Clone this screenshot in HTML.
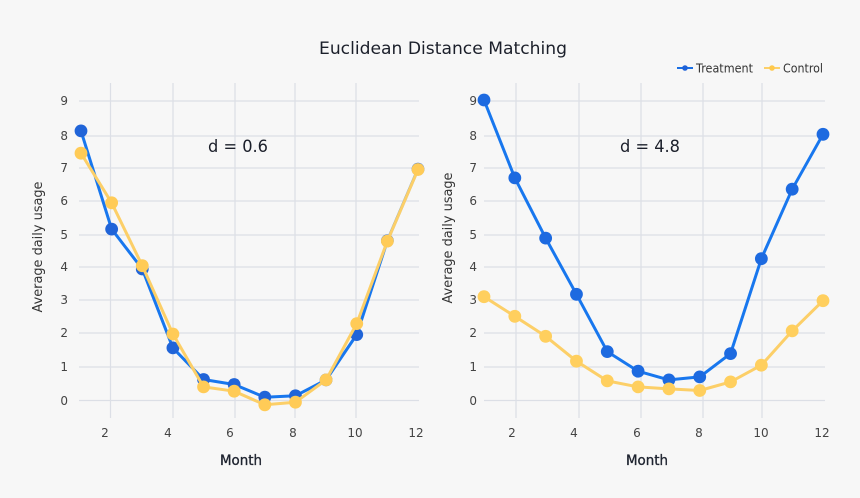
<!DOCTYPE html>
<html><head><meta charset="utf-8"><style>
html,body{margin:0;padding:0;background:#f7f7f7;}
svg{display:block;}
text{font-family:"DejaVu Sans","Liberation Sans",sans-serif;}
</style></head><body>
<svg width="860" height="498" viewBox="0 0 860 498" xmlns="http://www.w3.org/2000/svg">
<rect width="860" height="498" fill="#f7f7f7"/>
<text x="443" y="54" font-size="17" fill="#1b1f2a" text-anchor="middle" textLength="248" lengthAdjust="spacingAndGlyphs">Euclidean Distance Matching</text>
<!-- legend -->
<line x1="677" y1="68" x2="693" y2="68" stroke="#1a6fe4" stroke-width="2"/>
<circle cx="685" cy="68" r="2.8" fill="#1f62d8"/>
<text x="696" y="72.5" font-size="12.5" fill="#333" textLength="57" lengthAdjust="spacingAndGlyphs">Treatment</text>
<line x1="764" y1="68" x2="780" y2="68" stroke="#fcd06a" stroke-width="2"/>
<circle cx="772" cy="68" r="2.8" fill="#ffc94d"/>
<text x="783" y="72.5" font-size="12.5" fill="#333" textLength="40" lengthAdjust="spacingAndGlyphs">Control</text>

<!-- LEFT PANEL grid -->
<g stroke="#dcdfe6" stroke-width="1.2">
<line x1="79" y1="101" x2="419" y2="101"/>
<line x1="79" y1="136" x2="419" y2="136"/>
<line x1="79" y1="168" x2="419" y2="168"/>
<line x1="79" y1="201" x2="419" y2="201"/>
<line x1="79" y1="235" x2="419" y2="235"/>
<line x1="79" y1="267" x2="419" y2="267"/>
<line x1="79" y1="300" x2="419" y2="300"/>
<line x1="79" y1="333" x2="419" y2="333"/>
<line x1="79" y1="367" x2="419" y2="367"/>
<line x1="79" y1="400.5" x2="419" y2="400.5"/>
<line x1="110.5" y1="83" x2="110.5" y2="418"/>
<line x1="173" y1="83" x2="173" y2="418"/>
<line x1="235" y1="83" x2="235" y2="418"/>
<line x1="295" y1="83" x2="295" y2="418"/>
<line x1="356" y1="83" x2="356" y2="418"/>
</g>
<g font-size="12" fill="#444" text-anchor="end">
<text x="68" y="105">9</text><text x="68" y="140">8</text><text x="68" y="172">7</text>
<text x="68" y="205">6</text><text x="68" y="239">5</text><text x="68" y="271">4</text>
<text x="68" y="304">3</text><text x="68" y="337">2</text><text x="68" y="371">1</text>
<text x="68" y="405">0</text>
</g>
<g font-size="12" fill="#444" text-anchor="middle">
<text x="105" y="437">2</text><text x="168" y="437">4</text><text x="230" y="437">6</text>
<text x="293" y="437">8</text><text x="355" y="437">10</text><text x="416" y="437">12</text>
</g>
<text x="241" y="465" font-size="14" fill="#1f2430" stroke="#1f2430" stroke-width="0.35" text-anchor="middle" textLength="42" lengthAdjust="spacingAndGlyphs">Month</text>
<text transform="translate(42,247) rotate(-90)" font-size="13" fill="#333" text-anchor="middle" textLength="131" lengthAdjust="spacingAndGlyphs">Average daily usage</text>
<text x="238" y="152" font-size="17" fill="#1b1f2a" text-anchor="middle" textLength="60" lengthAdjust="spacingAndGlyphs">d = 0.6</text>

<polyline fill="none" stroke="#1877ee" stroke-width="3" stroke-linejoin="round" points="81,130.9 111.64,229.1 142.27,269.0 172.91,347.9 203.55,379.5 234.18,384.5 264.82,397.2 295.45,395.8 326.09,379.9 356.73,334.6 387.36,240.8 418,169.2"/>
<g fill="#2064d8">
<circle cx="81" cy="130.9" r="6.4"/><circle cx="111.64" cy="229.1" r="6.4"/><circle cx="142.27" cy="269.0" r="6.4"/>
<circle cx="172.91" cy="347.9" r="6.4"/><circle cx="203.55" cy="379.5" r="6.4"/><circle cx="234.18" cy="384.5" r="6.4"/>
<circle cx="264.82" cy="397.2" r="6.4"/><circle cx="295.45" cy="395.8" r="6.4"/><circle cx="326.09" cy="379.9" r="6.4"/>
<circle cx="356.73" cy="334.6" r="6.4"/><circle cx="387.36" cy="240.8" r="6.4"/><circle cx="418" cy="169.2" r="6.4"/>
</g>
<polyline fill="none" stroke="#fccf68" stroke-width="3" stroke-linejoin="round" points="81,153.2 111.64,202.8 142.27,265.7 172.91,334.0 203.55,386.9 234.18,391.2 264.82,404.8 295.45,402.2 326.09,379.9 356.73,323.6 387.36,241.1 418,169.5"/>
<g fill="#ffcb57">
<circle cx="81" cy="153.2" r="6.4"/><circle cx="111.64" cy="202.8" r="6.4"/><circle cx="142.27" cy="265.7" r="6.4"/>
<circle cx="172.91" cy="334.0" r="6.4"/><circle cx="203.55" cy="386.9" r="6.4"/><circle cx="234.18" cy="391.2" r="6.4"/>
<circle cx="264.82" cy="404.8" r="6.4"/><circle cx="295.45" cy="402.2" r="6.4"/><circle cx="326.09" cy="379.9" r="6.4"/>
<circle cx="356.73" cy="323.6" r="6.4"/><circle cx="387.36" cy="241.1" r="6.4"/><circle cx="418" cy="169.5" r="6.4"/>
</g>

<!-- RIGHT PANEL grid -->
<g stroke="#dcdfe6" stroke-width="1.2">
<line x1="484" y1="101" x2="825" y2="101"/>
<line x1="484" y1="136" x2="825" y2="136"/>
<line x1="484" y1="168" x2="825" y2="168"/>
<line x1="484" y1="201" x2="825" y2="201"/>
<line x1="484" y1="235" x2="825" y2="235"/>
<line x1="484" y1="267" x2="825" y2="267"/>
<line x1="484" y1="300" x2="825" y2="300"/>
<line x1="484" y1="333" x2="825" y2="333"/>
<line x1="484" y1="367" x2="825" y2="367"/>
<line x1="484" y1="400.5" x2="825" y2="400.5"/>
<line x1="516" y1="83" x2="516" y2="418"/>
<line x1="579" y1="83" x2="579" y2="418"/>
<line x1="641" y1="83" x2="641" y2="418"/>
<line x1="703" y1="83" x2="703" y2="418"/>
<line x1="762" y1="83" x2="762" y2="418"/>
</g>
<g font-size="12" fill="#444" text-anchor="end">
<text x="477" y="105">9</text><text x="477" y="140">8</text><text x="477" y="172">7</text>
<text x="477" y="205">6</text><text x="477" y="239">5</text><text x="477" y="271">4</text>
<text x="477" y="304">3</text><text x="477" y="337">2</text><text x="477" y="371">1</text>
<text x="477" y="405">0</text>
</g>
<g font-size="12" fill="#444" text-anchor="middle">
<text x="512" y="437">2</text><text x="574" y="437">4</text><text x="637" y="437">6</text>
<text x="699" y="437">8</text><text x="761" y="437">10</text><text x="822" y="437">12</text>
</g>
<text x="647" y="465" font-size="14" fill="#1f2430" stroke="#1f2430" stroke-width="0.35" text-anchor="middle" textLength="42" lengthAdjust="spacingAndGlyphs">Month</text>
<text transform="translate(452,238) rotate(-90)" font-size="13" fill="#333" text-anchor="middle" textLength="131" lengthAdjust="spacingAndGlyphs">Average daily usage</text>
<text x="650" y="152" font-size="17" fill="#1b1f2a" text-anchor="middle" textLength="60" lengthAdjust="spacingAndGlyphs">d = 4.8</text>

<polyline fill="none" stroke="#1877ee" stroke-width="3" stroke-linejoin="round" points="484,100.0 514.82,177.9 545.64,238.1 576.46,294.3 607.27,351.6 638.09,371.2 668.91,379.9 699.73,376.9 730.55,353.6 761.36,258.7 792.18,189.2 823,134.3"/>
<g fill="#1d6ae0">
<circle cx="484" cy="100.0" r="6.4"/><circle cx="514.82" cy="177.9" r="6.4"/><circle cx="545.64" cy="238.1" r="6.4"/>
<circle cx="576.46" cy="294.3" r="6.4"/><circle cx="607.27" cy="351.6" r="6.4"/><circle cx="638.09" cy="371.2" r="6.4"/>
<circle cx="668.91" cy="379.9" r="6.4"/><circle cx="699.73" cy="376.9" r="6.4"/><circle cx="730.55" cy="353.6" r="6.4"/>
<circle cx="761.36" cy="258.7" r="6.4"/><circle cx="792.18" cy="189.2" r="6.4"/><circle cx="823" cy="134.3" r="6.4"/>
</g>
<polyline fill="none" stroke="#fccf68" stroke-width="3" stroke-linejoin="round" points="484,296.7 514.82,316.3 545.64,336.3 576.46,361.2 607.27,380.9 638.09,386.9 668.91,388.9 699.73,390.5 730.55,381.9 761.36,365.2 792.18,330.9 823,300.7"/>
<g fill="#ffcf5e">
<circle cx="484" cy="296.7" r="6.4"/><circle cx="514.82" cy="316.3" r="6.4"/><circle cx="545.64" cy="336.3" r="6.4"/>
<circle cx="576.46" cy="361.2" r="6.4"/><circle cx="607.27" cy="380.9" r="6.4"/><circle cx="638.09" cy="386.9" r="6.4"/>
<circle cx="668.91" cy="388.9" r="6.4"/><circle cx="699.73" cy="390.5" r="6.4"/><circle cx="730.55" cy="381.9" r="6.4"/>
<circle cx="761.36" cy="365.2" r="6.4"/><circle cx="792.18" cy="330.9" r="6.4"/><circle cx="823" cy="300.7" r="6.4"/>
</g>
</svg>
</body></html>
